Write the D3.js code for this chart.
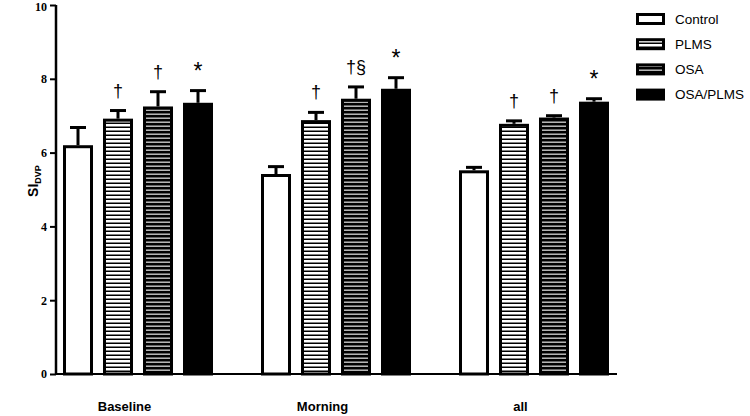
<!DOCTYPE html>
<html><head><meta charset="utf-8">
<script src="https://cdn.jsdelivr.net/npm/d3@7"></script>
<style>body{margin:0;background:#fff}svg{display:block}</style>
</head><body>
<script>
const groups = ["Baseline", "Morning", "all"];
const series = ["Control", "PLMS", "OSA", "OSA/PLMS"];
const controlMean = [6.20, 5.42, 5.52];
const controlSem  = [0.48, 0.20, 0.08];
const plmsMean    = [6.92, 6.88, 6.78];
const plmsSem     = [0.22, 0.21, 0.08];
const osaMean     = [7.25, 7.46, 6.95];
const osaSem      = [0.40, 0.32, 0.05];
const osaPlmsMean = [7.35, 7.73, 7.38];
const osaPlmsSem  = [0.33, 0.30, 0.08];
const controlMark = ["", "", ""];
const plmsMark    = ["†", "†", "†"];
const osaMark     = ["†", "†§", "†"];
const osaPlmsMark = ["*", "*", "*"];
const yTicks = [0, 2, 4, 6, 8, 10];

const means = [controlMean, plmsMean, osaMean, osaPlmsMean];
const sems = [controlSem, plmsSem, osaSem, osaPlmsSem];
const marks = [controlMark, plmsMark, osaMark, osaPlmsMark];

const W = 750, H = 416;
const svg = d3.select("body").append("svg").attr("width", W).attr("height", H);
const defs = svg.append("defs");
const p1 = defs.append("pattern").attr("id", "pPLMS").attr("patternUnits", "userSpaceOnUse").attr("width", 8).attr("height", 4);
p1.append("rect").attr("width", 8).attr("height", 4).attr("fill", "#fff");
p1.append("rect").attr("y", 2.5).attr("width", 8).attr("height", 1.5).attr("fill", "#000");
const p2 = defs.append("pattern").attr("id", "pOSA").attr("patternUnits", "userSpaceOnUse").attr("width", 8).attr("height", 4);
p2.append("rect").attr("width", 8).attr("height", 4).attr("fill", "#000");
p2.append("rect").attr("y", 1.5).attr("width", 8).attr("height", 1.4).attr("fill", "#c8c8c8");
const fills = ["#fff", "url(#pPLMS)", "url(#pOSA)", "#000"];

const y = d3.scaleLinear().domain([0, 10]).range([374, 5]);
const x0 = d3.scaleBand().domain(groups).range([63, 609]).paddingInner(48 / 198).paddingOuter(0);
const x1 = d3.scaleBand().domain(series).range([0, x0.bandwidth()]).paddingInner(0.25).paddingOuter(0);

const data = [];
groups.forEach((g, gi) => series.forEach((s, si) => {
  data.push({g, s, si, v: means[si][gi], e: sems[si][gi], m: marks[si][gi]});
}));

const sw = 3;
const bars = svg.append("g");
bars.selectAll("g.b").data(data).join("g").attr("class", "b").each(function(d) {
  const gg = d3.select(this);
  const xl = x0(d.g) + x1(d.s);
  const bw = x1.bandwidth();
  const cx = xl + bw / 2;
  gg.append("line").attr("x1", cx).attr("x2", cx).attr("y1", y(d.v)).attr("y2", y(d.v + d.e))
    .attr("stroke", "#000").attr("stroke-width", 3);
  gg.append("line").attr("x1", cx - 8).attr("x2", cx + 8).attr("y1", y(d.v + d.e)).attr("y2", y(d.v + d.e))
    .attr("stroke", "#000").attr("stroke-width", 3);
  gg.append("rect").attr("x", xl + sw / 2).attr("width", bw - sw)
    .attr("y", y(d.v) + sw / 2).attr("height", y(0) - y(d.v) - sw / 2)
    .attr("fill", fills[d.si]).attr("stroke", "#000").attr("stroke-width", sw);
  if (d.m) {
    gg.append("text").attr("x", cx).attr("y", y(d.v + d.e) - (d.m === "*" ? 12 : 14))
      .attr("text-anchor", "middle")
      .attr("font-family", "Liberation Sans, Arial, sans-serif")
      .attr("font-size", d.m === "*" ? 23 : 18)
      .text(d.m);
  }
});

const yAxis = svg.append("g").attr("transform", "translate(56,0)")
  .call(d3.axisLeft(y).tickValues(yTicks).tickSize(6).tickPadding(3).tickFormat(d3.format("d")));
yAxis.select(".domain").attr("stroke-width", 2.5).attr("d", `M0,${y(0)}V${y(10)}`);
yAxis.selectAll(".tick line").attr("stroke-width", 2);
yAxis.selectAll(".tick text").attr("font-family", "Liberation Serif, Times New Roman, serif")
  .attr("font-weight", "bold").attr("font-size", 12).attr("fill", "#000")
  .attr("dy", d => d === 10 ? "0.45em" : "0.32em");

svg.append("line").attr("x1", 56).attr("x2", 617).attr("y1", y(0)).attr("y2", y(0))
  .attr("stroke", "#000").attr("stroke-width", 2);

svg.append("g").selectAll("text").data(groups).join("text")
  .attr("x", d => x0(d) + x0.bandwidth() * 0.41).attr("y", 411)
  .attr("text-anchor", "middle").attr("font-family", "Liberation Sans, Arial, sans-serif")
  .attr("font-weight", "bold").attr("font-size", 13).text(d => d);

const yl = svg.append("text").attr("transform", "translate(38,181) rotate(-90)")
  .attr("text-anchor", "middle").attr("font-family", "Liberation Sans, Arial, sans-serif")
  .attr("font-weight", "bold").attr("font-size", 14);
yl.append("tspan").text("SI");
yl.append("tspan").attr("font-size", 9).attr("dy", 3).text("DVP");

const lg = svg.append("g");
series.forEach((s, i) => {
  const cy = 19 + i * 25.2;
  lg.append("rect").attr("x", 637.5).attr("y", cy - 4.5).attr("width", 26).attr("height", 9)
    .attr("fill", fills[i]).attr("stroke", "#000").attr("stroke-width", 3);
  lg.append("text").attr("x", 675).attr("y", cy + 4.5)
    .attr("font-family", "Liberation Sans, Arial, sans-serif").attr("font-size", 13.5).text(s);
});
</script>
</body></html>
